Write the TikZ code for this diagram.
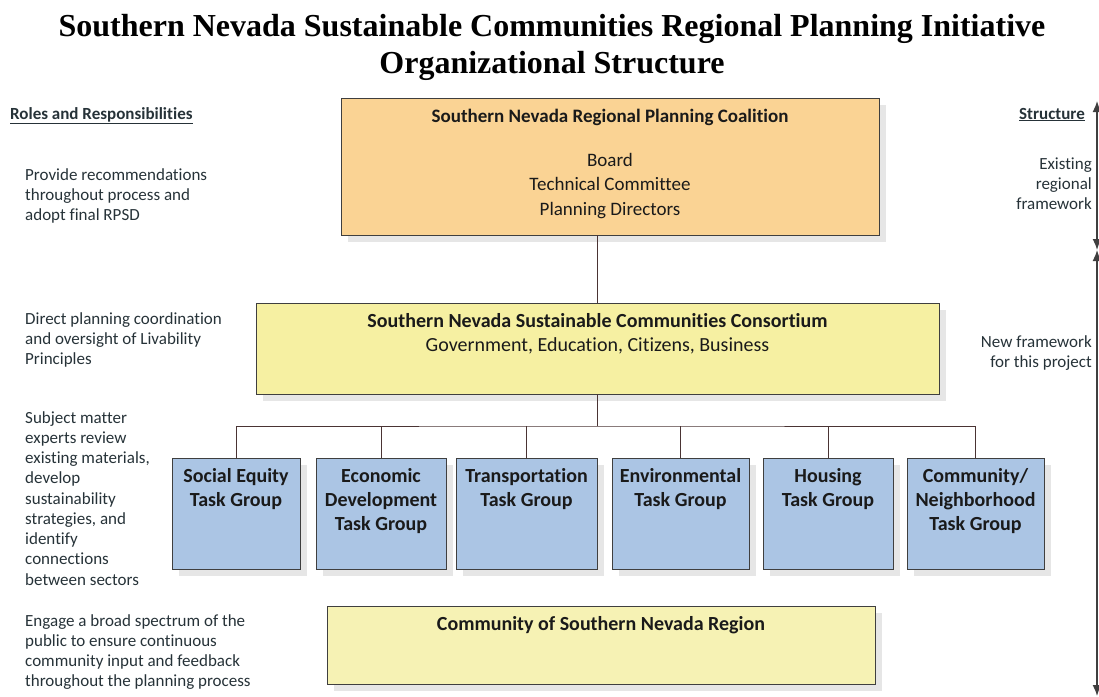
\documentclass[tikz,border=0pt]{standalone}
\usepackage{fontspec}
\setmainfont{Carlito}[Ligatures=NoCommon]
\newfontfamily\headfont{Liberation Serif}
\usetikzlibrary{arrows.meta,shadows}

\definecolor{coalfill}{HTML}{FAD394}
\definecolor{consfill}{HTML}{F6F0A2}
\definecolor{commfill}{HTML}{F6F2B4}
\definecolor{taskfill}{HTML}{ABC5E4}
\definecolor{edgeline}{HTML}{3F3F3F}
\definecolor{linkline}{HTML}{4A3434}
\definecolor{shade}{HTML}{E6E6E6}
\definecolor{ink}{HTML}{1A1A1A}
\definecolor{note}{HTML}{263238}

\begin{document}
\begin{tikzpicture}[x=1pt,y=-1pt,
  box/.style={draw=edgeline, line width=0.9pt, inner sep=0pt,
    drop shadow={shadow xshift=7pt, shadow yshift=-7pt, fill=shade, opacity=1}},
  taskbox/.style={box, fill=taskfill, minimum height=111pt},
  boxtitle/.style={font=\fontsize{20}{24}\selectfont\bfseries, text=ink, inner sep=0pt, anchor=base, align=center},
  boxtext/.style={font=\fontsize{20}{24.5}\selectfont, text=ink, inner sep=0pt, anchor=base, align=center},
  notetext/.style={font=\fontsize{17}{20}\selectfont, text=note, inner sep=0pt, anchor=base west, align=left},
  sidetext/.style={font=\fontsize{17}{20}\selectfont, text=note, inner sep=0pt, anchor=base east, align=right},
  link/.style={draw=linkline, line width=1pt},
  span/.style={draw=edgeline, line width=1.5pt, {Latex[length=11pt,width=9pt]}-{Latex[length=11pt,width=9pt]}}
]
\useasboundingbox (0,0) rectangle (1099,696);

% heading
\node[font=\headfont\fontsize{32}{37}\selectfont\bfseries, inner sep=0pt, anchor=base] (head1) at (552,36)
  {Southern Nevada Sustainable Communities Regional Planning Initiative};
\node[font=\headfont\fontsize{32}{37}\selectfont\bfseries, inner sep=0pt, anchor=base] (head2) at (552,73)
  {Organizational Structure};

% boxes
\node[box, fill=coalfill, minimum width=538pt, minimum height=137pt] (coal) at (610,166.5) {};
\node[box, fill=consfill, minimum width=683pt, minimum height=91pt] (cons) at (597.5,348.5) {};
\node[taskbox, minimum width=128pt] (t1) at (236,513.5) {};
\node[taskbox, minimum width=130pt] (t2) at (381,513.5) {};
\node[taskbox, minimum width=141pt] (t3) at (526.5,513.5) {};
\node[taskbox, minimum width=137pt] (t4) at (680.5,513.5) {};
\node[taskbox, minimum width=130pt] (t5) at (828,513.5) {};
\node[taskbox, minimum width=137pt] (t6) at (975.5,513.5) {};
\node[box, fill=commfill, minimum width=548pt, minimum height=78pt] (comm) at (601,645) {};

% box texts (a multi-line node sits on the baseline of its last line)
\node[boxtitle, font=\fontsize{19}{24}\selectfont\bfseries] (coalT) at (610,122) {Southern Nevada Regional Planning Coalition};
\node[boxtext, font=\fontsize{19}{24.5}\selectfont] (coalM) at (610,215) {Board\\Technical Committee\\Planning Directors};
\node[boxtitle] (consT) at (597.5,327) {Southern Nevada Sustainable Communities Consortium};
\node[boxtext] (consM) at (597.5,351) {Government, Education, Citizens, Business};
\node[boxtitle] (t1T) at (t1 |- 0,506) {Social Equity\\Task Group};
\node[boxtitle] (t2T) at (t2 |- 0,530) {Economic\\Development\\Task Group};
\node[boxtitle] (t3T) at (t3 |- 0,506) {Transportation\\Task Group};
\node[boxtitle] (t4T) at (t4 |- 0,506) {Environmental\\Task Group};
\node[boxtitle] (t5T) at (t5 |- 0,506) {Housing\\Task Group};
\node[boxtitle] (t6T) at (t6 |- 0,530) {Community/\\Neighborhood\\Task Group};
\node[boxtitle] (commT) at (601,630) {Community of Southern Nevada Region};

% connectors
\coordinate (bar) at (597.5,426);
\draw[link] (cons.north) -- (cons.north |- coal.south);
\draw[link] (cons.south) -- (bar);
\draw[link] (t1.north) |- (bar) -| (t6.north);
\draw[link] (t2.north) -- (t2.north |- bar);
\draw[link] (t3.north) -- (t3.north |- bar);
\draw[link] (t4.north) -- (t4.north |- bar);
\draw[link] (t5.north) -- (t5.north |- bar);

% roles column
\node[notetext, font=\fontsize{17}{20}\selectfont\bfseries] (roles) at (10,119) {\underline{Roles and Responsibilities}};
\node[notetext] (r1) at (25,220) {Provide recommendations\\throughout process and\\adopt final RPSD};
\node[notetext] (r2) at (25,364) {Direct planning coordination\\and oversight of Livability\\Principles};
\node[notetext, font=\fontsize{17}{20.25}\selectfont] (r3) at (25,585) {Subject matter\\experts review\\existing materials,\\develop\\sustainability\\strategies, and\\identify\\connections\\between sectors};
\node[notetext] (r4) at (25,686) {Engage a broad spectrum of the\\public to ensure continuous\\community input and feedback\\throughout the planning process};

% structure column
\node[sidetext, font=\fontsize{17}{20}\selectfont\bfseries] (struct) at (1085,119) {\underline{Structure}};
\node[sidetext] (s1) at (1092,209) {Existing\\regional\\framework};
\node[sidetext] (s2) at (1092,367) {New framework\\for this project};

\coordinate (spanTop) at (1097,101);
\coordinate (spanMid) at (1097,250);
\coordinate (spanBot) at (1097,696);
\draw[span] (spanMid) -- (spanTop);
\draw[span] (spanMid) -- (spanBot);
\end{tikzpicture}
\end{document}
